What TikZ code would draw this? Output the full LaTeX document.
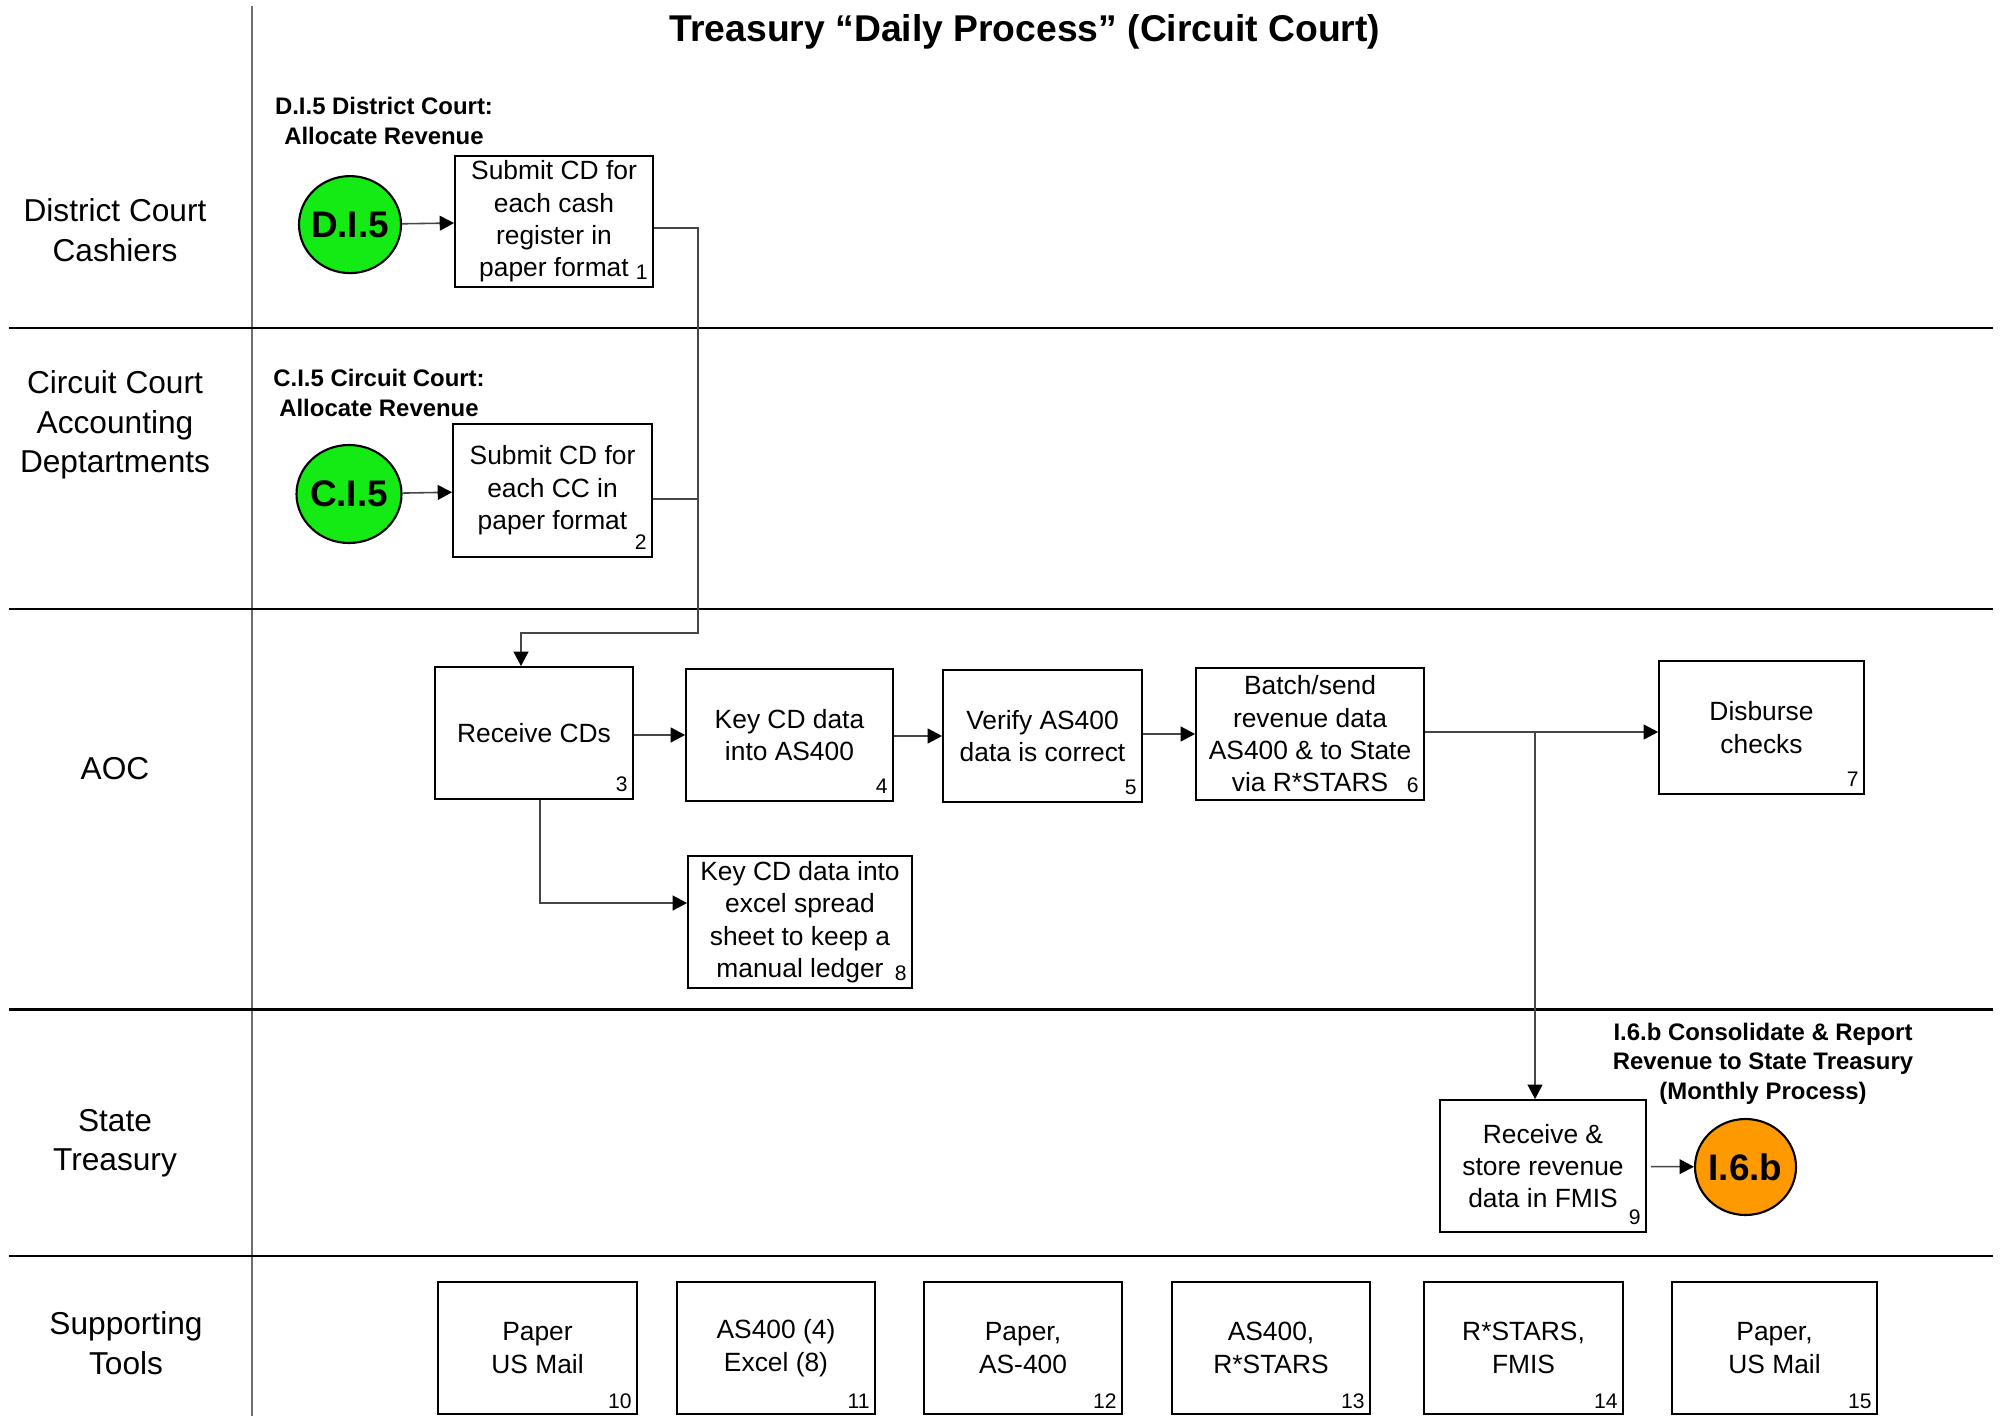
\documentclass[tikz,border=0pt]{standalone}
\usepackage{fontspec}
\setmainfont{Liberation Sans}
\usetikzlibrary{arrows.meta,shapes.geometric}
\definecolor{startgreen}{RGB}{20,235,20}
\definecolor{linkorange}{RGB}{255,153,0}
\definecolor{wire}{RGB}{70,70,70}
\definecolor{divider}{RGB}{110,110,110}
\tikzset{
  sz/.style 2 args={minimum width=#1*0.01cm, minimum height=#2*0.01cm},
  lanelabel/.style={align=center, inner sep=0, font=\fontsize{9}{11.2}\selectfont},
  caption/.style={align=center, inner sep=0, font=\bfseries\fontsize{6.8}{8.4}\selectfont},
  pbox/.style={draw=black, line width=0.5pt, align=center, inner sep=0,
    font=\fontsize{7.5}{9.2}\selectfont},
  num/.style={anchor=south east, inner xsep=1.6pt, inner ysep=2.2pt, font=\fontsize{6}{7}\selectfont},
  toolnum/.style={num, inner ysep=1.5pt},
  pageref/.style={ellipse, draw=black, line width=0.6pt, inner sep=0,
    font=\bfseries\fontsize{10.5}{12}\selectfont},
  conn/.style={draw=wire, line width=0.45pt},
  arr/.style={conn, -{Triangle[length=4.1pt,width=4.2pt,color=black]}},
  laneline/.style={draw=black, line width=0.7pt},
}
\begin{document}
\begin{tikzpicture}[x=0.01cm,y=-0.01cm]
\useasboundingbox (0,0) rectangle (2001,1416);

% swimlane grid
\draw[draw=divider, line width=0.45pt] (252,6) -- (252,1416);
\foreach \yy in {328,609,1009.5,1256}
  \draw[laneline] (9,\yy) -- (1993,\yy);

% title
\node[anchor=base, inner sep=0, font=\bfseries\fontsize{10.6}{12.7}\selectfont] (title)
  at (1025,42) {Treasury “Daily Process” (Circuit Court)};

% lane names
\node[lanelabel] (ln1) at (115,230) {District Court\\Cashiers};
\node[lanelabel] (ln2) at (115,425) {Circuit Court\\Accounting\\Deptartments};
\node[lanelabel] (ln3) at (115,769) {AOC};
\node[lanelabel] (ln4) at (115,1143) {State\\Treasury};
\node[lanelabel] (ln5) at (126,1343) {Supporting\\Tools};

% off-page connectors and their captions
\node[caption] (cap1) at (384,121) {D.I.5 District Court:\\Allocate Revenue};
\node[caption] (cap2) at (379,393) {C.I.5 Circuit Court:\\Allocate Revenue};
\node[caption] (cap3) at (1763,1063.5) {I.6.b Consolidate \& Report\\Revenue to State Treasury\\(Monthly Process)};

\node[pageref, fill=startgreen, sz={102}{97}] (d15) at (350,224.6) {\makebox[0pt]{D.I.5}};
\node[pageref, fill=startgreen, sz={105}{98}] (c15) at (349,494) {\makebox[0pt]{C.I.5}};
\node[pageref, fill=linkorange, sz={101}{96}] (i6b) at (1745.5,1167) {\makebox[0pt]{I.6.b}};

% process steps
\node[pbox, sz={198}{131}, label={[num]south east:1}] (b1) at (554,221.5)
  {Submit CD for\\each cash\\register in\\paper format};
\node[pbox, sz={199}{133}, label={[num]south east:2}] (b2) at (552.5,490.5)
  {Submit CD for\\each CC in\\paper format};
\node[pbox, sz={198}{132}, label={[num]south east:3}] (b3) at (534,733) {Receive CDs};
\node[pbox, sz={207}{132}, label={[num]south east:4}] (b4) at (789.5,735) {Key CD data\\into AS400};
\node[pbox, sz={199}{132}, label={[num]south east:5}] (b5) at (1042.5,736) {Verify AS400\\data is correct};
\node[pbox, sz={228}{132}, label={[num]south east:6}] (b6) at (1310,734)
  {Batch/send\\revenue data\\AS400 \& to State\\via R*STARS};
\node[pbox, sz={205}{133}, label={[num]south east:7}] (b7) at (1761.5,727.5) {Disburse\\checks};
\node[pbox, sz={224}{132}, label={[num]south east:8}] (b8) at (800,922)
  {Key CD data into\\excel spread\\sheet to keep a\\manual ledger};
\node[pbox, sz={206}{132}, label={[num]south east:9}] (b9) at (1543,1166)
  {Receive \&\\store revenue\\data in FMIS};

% supporting tools
\node[pbox, sz={199}{132}, label={[toolnum]south east:10}] (t10) at (537.5,1348) {Paper\\US Mail};
\node[pbox, sz={198}{132}, label={[toolnum]south east:11}] (t11) at (776,1348) {AS400 (4)\\Excel (8)};
\node[pbox, sz={198}{132}, label={[toolnum]south east:12}] (t12) at (1023,1348) {Paper,\\AS-400};
\node[pbox, sz={198}{132}, label={[toolnum]south east:13}] (t13) at (1271,1348) {AS400,\\R*STARS};
\node[pbox, sz={199}{132}, label={[toolnum]south east:14}] (t14) at (1523.5,1348) {R*STARS,\\FMIS};
\node[pbox, sz={205}{132}, label={[toolnum]south east:15}] (t15) at (1774.5,1348) {Paper,\\US Mail};

% routing points
\coordinate (m1) at (698,228);
\coordinate (m2) at (698,499);
\coordinate (drop) at (521,633);
\coordinate (jn) at (1535,732);
\coordinate (k) at (540,903);

% flow
\draw[arr] (d15) -- (b1);
\draw[arr] (c15) -- (b2);
\draw[arr] (b1.east |- m1) -- (m1) |- (drop) -- (drop |- b3.north);
\draw[conn] (b2.east |- m2) -- (m2);
\draw[arr] (b3.east |- b4.west) -- (b4.west);
\draw[arr] (b4.east |- b5.west) -- (b5.west);
\draw[arr] (b5.east |- b6.west) -- (b6.west);
\draw[arr] (b6.east |- jn) -- (b7.west |- jn);
\draw[arr] (jn) -- (jn |- b9.north);
\draw[arr] (b3.south -| k) |- (b8.west |- k);
\draw[arr, shorten <=1.2pt] (b9) -- (i6b);
\end{tikzpicture}
\end{document}
